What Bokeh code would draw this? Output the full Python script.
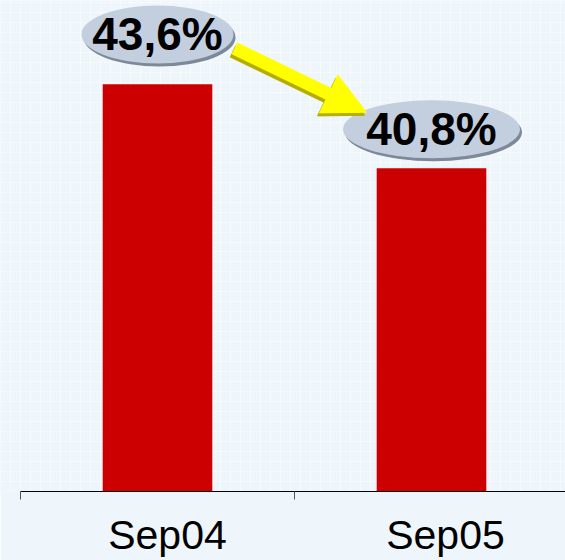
import numpy as np
from bokeh.plotting import figure
from bokeh.models import Range1d, FixedTicker, Grid, Arrow, NormalHead
from bokeh.core.properties import value
from bokeh.embed import file_html
from bokeh.resources import INLINE

# --- data -------------------------------------------------------------
periods = ["Sep04", "Sep05"]
shares = [43.6, 40.8]
share_labels = ["43,6%", "40,8%"]

# --- layout constants ---------------------------------------------------
W, H = 565, 560
BASE = 30.0          # value at the category axis
PX_X = 274.0         # pixels per category slot
PX_Y = 30.0          # pixels per percentage point
LEFT_PAD = 20        # pixels left of the first slot
FRAME_H = 492        # height of the plotting frame

x_start = -LEFT_PAD / PX_X
x_end = (W - LEFT_PAD) / PX_X
y_end = BASE + FRAME_H / PX_Y

BG = "#eef5fb"
BAR = "#cc0000"

# badge sizes (px) and their lift above each bar top (px)
badge_w = [152, 177]
badge_h = 58
badge_lift = [50, 39]
# horizontal nudge (px) of each category label
label_nudge = [10, 14]

p = figure(width=W, height=H,
           x_range=Range1d(x_start, x_end),
           y_range=Range1d(BASE, y_end),
           output_backend="svg", toolbar_location=None,
           min_border_left=0, min_border_right=0,
           min_border_top=0, min_border_bottom=H - FRAME_H)
p.background_fill_color = BG
p.border_fill_color = BG
p.outline_line_color = None
p.yaxis.visible = False
p.grid.visible = False

# faint squared paper behind everything
gx = Grid(dimension=0, ticker=FixedTicker(ticks=list(np.arange(x_start, x_end, 10 / PX_X))),
          grid_line_color="white", grid_line_alpha=0.5, grid_line_width=1)
gy = Grid(dimension=1, ticker=FixedTicker(ticks=list(np.arange(BASE, y_end, 10 / PX_Y))),
          grid_line_color="white", grid_line_alpha=0.5, grid_line_width=1)
p.add_layout(gx)
p.add_layout(gy)

xs = np.arange(len(periods)) + 0.5
p.vbar(x=xs, top=shares, bottom=BASE, width=0.4, fill_color=BAR, line_color=None)

# category axis: labels near slot centres, tick marks at slot edges
label_ticks = [float(x + d / PX_X) for x, d in zip(xs, label_nudge)]
ax = p.xaxis[0]
ax.ticker = FixedTicker(ticks=label_ticks, minor_ticks=list(range(len(periods) + 1)))
ax.major_label_overrides = {t: lab for t, lab in zip(label_ticks, periods)}
ax.bounds = (0, len(periods))
ax.axis_line_color = "black"
ax.axis_line_width = 1
ax.major_tick_out = 0
ax.major_tick_in = 0
ax.minor_tick_out = 8
ax.minor_tick_in = 0
ax.minor_tick_line_color = "#555555"
ax.major_label_standoff = 12
ax.major_label_text_font = "Liberation Sans"
ax.major_label_text_font_size = "41px"
ax.major_label_text_color = "black"

# value badges
lbl_y = np.array(shares) + np.array(badge_lift) / PX_Y
p.ellipse(x=xs + 2 / PX_X, y=lbl_y - 3 / PX_Y, width=badge_w, height=badge_h,
          width_units="screen", height_units="screen",
          fill_color="#7d8898", line_color=None)
p.ellipse(x=xs, y=lbl_y, width=badge_w, height=badge_h,
          width_units="screen", height_units="screen",
          fill_color="#c3cede", line_color=None)
p.text(x=xs, y=lbl_y, text=share_labels, text_font=value("Liberation Sans"),
       text_font_style="bold", text_font_size="46px", text_color="black",
       text_align="center", text_baseline="middle")

# yellow arrow from the first badge to the second
x0 = xs[0] + 77 / PX_X
y0 = lbl_y[0] - 14 / PX_Y
x1 = xs[1] - 65 / PX_X
y1 = lbl_y[1] + 17 / PX_Y
shade = "#b5ad00"
p.add_layout(Arrow(x_start=x0 - 2 / PX_X, y_start=y0 - 3 / PX_Y,
                   x_end=x1 - 2 / PX_X, y_end=y1 - 3 / PX_Y,
                   line_color=shade, line_width=13,
                   end=NormalHead(size=42, fill_color=shade, line_color=shade)))
p.add_layout(Arrow(x_start=x0, y_start=y0, x_end=x1, y_end=y1,
                   line_color="#ffff00", line_width=13,
                   end=NormalHead(size=42, fill_color="#ffff00", line_color="#ffff00")))

open("out.html", "w").write(file_html(p, INLINE))
